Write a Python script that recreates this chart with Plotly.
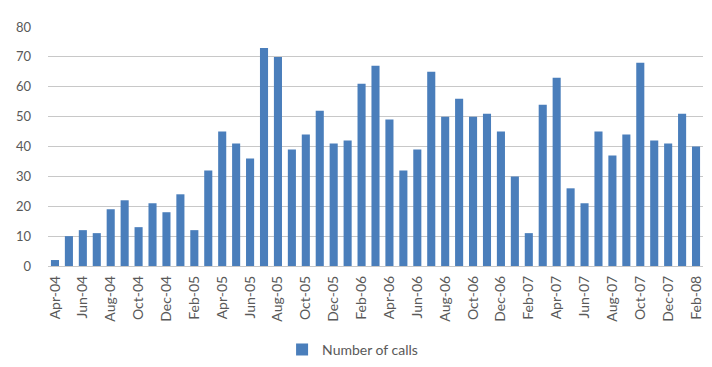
import plotly.graph_objects as go

months = [
    "Apr-04", "May-04", "Jun-04", "Jul-04", "Aug-04", "Sep-04", "Oct-04", "Nov-04", "Dec-04",
    "Jan-05", "Feb-05", "Mar-05", "Apr-05", "May-05", "Jun-05", "Jul-05", "Aug-05", "Sep-05",
    "Oct-05", "Nov-05", "Dec-05",
    "Jan-06", "Feb-06", "Mar-06", "Apr-06", "May-06", "Jun-06", "Jul-06", "Aug-06", "Sep-06",
    "Oct-06", "Nov-06", "Dec-06",
    "Jan-07", "Feb-07", "Mar-07", "Apr-07", "May-07", "Jun-07", "Jul-07", "Aug-07", "Sep-07",
    "Oct-07", "Nov-07", "Dec-07",
    "Jan-08", "Feb-08",
]
calls = [
    2, 10, 12, 11, 19, 22, 13, 21, 18,
    24, 12, 32, 45, 41, 36, 73, 70, 39, 44, 52, 41,
    42, 61, 67, 49, 32, 39, 65, 50, 56, 50, 51, 45,
    30, 11, 54, 63, 26, 21, 45, 37, 44, 68, 42, 41,
    51, 40,
]
series_name = "Number of calls"
y_ticks = [0, 10, 20, 30, 40, 50, 60, 70, 80]

shown_ticks = months[::2]

fig = go.Figure()
fig.add_trace(go.Bar(
    x=months, y=calls, name=series_name,
    marker=dict(color="#4a7ebb", line=dict(width=0)),
))

font_family = "Lato, 'Open Sans', sans-serif"
fig.update_layout(
    width=712, height=367,
    margin=dict(l=48, r=9, t=27, b=101, autoexpand=False),
    paper_bgcolor="white", plot_bgcolor="white",
    bargap=0.42,
    showlegend=True,
    legend=dict(
        orientation="h", x=0.465, xanchor="center", y=-0.351, yanchor="middle",
        font=dict(family=font_family, size=14, color="#595959"),
        itemwidth=30, tracegroupgap=0,
    ),
    font=dict(family=font_family, size=13, color="#595959"),
)
fig.update_xaxes(
    type="category", automargin=False,
    tickmode="array", tickvals=shown_ticks, ticktext=shown_ticks,
    tickangle=-90, showgrid=False, showline=False, ticks="",
    ticklabelstandoff=6,
    tickfont=dict(family=font_family, size=14, color="#595959"),
)
fig.update_yaxes(
    range=[0, 80], tickmode="array", tickvals=y_ticks, automargin=False,
    showgrid=True, gridcolor="#c8c8c8", gridwidth=1,
    zeroline=True, zerolinecolor="#c8c8c8", zerolinewidth=1,
    showline=False, ticks="", ticklabelstandoff=16,
    tickfont=dict(family=font_family, size=13, color="#595959"),
)

fig.write_html("out.html")
